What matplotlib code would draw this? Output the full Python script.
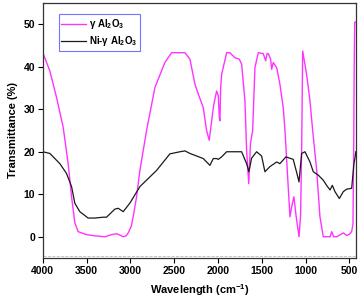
import matplotlib
matplotlib.use("Agg")
import matplotlib.pyplot as plt
import numpy as np

plt.rcParams['font.family'] = ['Liberation Sans', 'DejaVu Sans']
plt.rcParams['font.weight'] = 'bold'
plt.rcParams['mathtext.fontset'] = 'custom'
plt.rcParams['mathtext.bf'] = 'Liberation Sans:bold'
plt.rcParams['mathtext.rm'] = 'Liberation Sans:bold'
plt.rcParams['mathtext.default'] = 'bf'

# gamma Al2O3
wn_al = [4000, 3920, 3844, 3768, 3711, 3672, 3635, 3597, 3501, 3400, 3292, 3215,
         3158, 3110, 3083, 3050, 3026, 2990, 2969, 2930, 2892, 2816, 2721, 2607,
         2530, 2378, 2321, 2264, 2226, 2169, 2131, 2101, 2050, 2016, 1998, 1985,
         1979, 1970, 1959, 1902, 1865, 1807, 1758, 1731, 1693, 1674, 1650, 1630,
         1605, 1579, 1541, 1484, 1457, 1440, 1427, 1400, 1388, 1370, 1331, 1294,
         1256, 1236, 1200, 1179, 1160, 1134, 1110, 1076, 1058, 1046, 1034, 989,
         951, 920, 874, 837, 799, 722, 703, 680, 646, 571, 532, 500, 475, 460,
         452, 446, 440, 428]
t_al = [43.3, 39.0, 32.8, 25.8, 17.2, 9.4, 3.3, 1.2, 0.5, 0.2, 0.0, 0.5,
        0.7, 0.3, 0.0, 0.2, 0.9, 2.5, 4.7, 9.4, 15.6, 25.0, 35.1, 41.0,
        43.3, 43.3, 41.8, 35.9, 33.6, 30.4, 25.0, 22.7, 31.0, 34.3, 33.2, 28.0,
        27.3, 35.0, 38.2, 43.3, 43.3, 42.1, 41.8, 40.6, 32.0, 20.3, 12.5, 22.0,
        25.0, 39.8, 43.3, 43.1, 41.4, 43.1, 43.1, 41.8, 39.4, 41.0, 39.8, 35.9,
        30.4, 25.0, 12.0, 4.7, 7.0, 9.4, 5.0, 0.0, 5.0, 20.3, 43.7, 38.2,
        32.0, 25.0, 15.6, 4.7, 0.0, 0.0, 1.2, 0.0, 0.0, 0.9, 0.3, 0.6, 1.2, 3.0,
        20.0, 40.0, 50.5, 50.5]

# Ni-gamma Al2O3
wn_ni = [4000, 3920, 3806, 3730, 3672, 3635, 3578, 3483, 3406, 3311, 3273, 3178,
         3140, 3083, 3007, 2892, 2702, 2550, 2435, 2378, 2321, 2169, 2093, 2054,
         2016, 1998, 1959, 1902, 1731, 1674, 1648, 1617, 1560, 1503, 1465, 1408,
         1331, 1294, 1225, 1142, 1100, 1076, 1046, 1008, 951, 913, 856, 799, 761,
         722, 696, 665, 616, 571, 532, 475, 449, 435, 428]
t_ni = [20.0, 19.6, 17.2, 14.9, 11.8, 7.9, 5.9, 4.4, 4.4, 4.6, 4.6, 6.5,
        6.7, 5.9, 7.9, 11.8, 15.6, 19.5, 20.0, 20.2, 19.6, 18.4, 16.8, 18.4,
        18.4, 18.2, 18.8, 20.0, 20.0, 17.2, 15.3, 18.5, 20.0, 19.0, 15.3, 16.5,
        17.6, 17.2, 18.8, 18.2, 14.9, 12.9, 19.6, 20.0, 17.6, 15.3, 14.5, 13.3, 12.1,
        11.0, 12.1, 10.6, 9.0, 10.6, 11.2, 11.4, 17.2, 18.8, 20.0]

fig = plt.figure(figsize=(3.6, 3.0), dpi=100)
ax = fig.add_axes([0.119, 0.14, 0.870, 0.85])

ax.plot(wn_al, t_al, color='#ff33ff', linewidth=1.0, label=r'$\gamma$ Al$_2$O$_3$')
ax.plot(wn_ni, t_ni, color='#1a1a1a', linewidth=0.9, label=r'Ni-$\gamma$ Al$_2$O$_3$')
ax.axhline(-4.6, color='#bbbbbb', linewidth=0.6, linestyle='--', zorder=0)

ax.set_xlim(4000, 425)
ax.set_ylim(-5, 55)
ax.set_xticks([4000, 3500, 3000, 2500, 2000, 1500, 1000, 500])
ax.set_yticks([0, 10, 20, 30, 40, 50])
ax.tick_params(direction='out', length=3.5, width=0.8, labelsize=7.5, pad=2)
for lab in ax.get_xticklabels() + ax.get_yticklabels():
    lab.set_fontweight('bold')
for s in ax.spines.values():
    s.set_linewidth(0.9)
    s.set_color('#333333')

ax.set_xlabel(r'Wavelength (cm$^{-1}$)', fontsize=8, fontweight='bold', labelpad=5)
ax.set_ylabel('Transmittance (%)', fontsize=8, fontweight='bold', labelpad=4)

leg = ax.legend(loc='upper left', bbox_to_anchor=(0.05, 0.955), fontsize=7,
                frameon=True, fancybox=False, handlelength=2.5, handletextpad=0.3,
                borderpad=0.3, labelspacing=0.3, borderaxespad=0)
leg.get_frame().set_edgecolor('#5050ff')
leg.get_frame().set_linewidth(0.8)

fig.savefig('out.png', dpi=100)
